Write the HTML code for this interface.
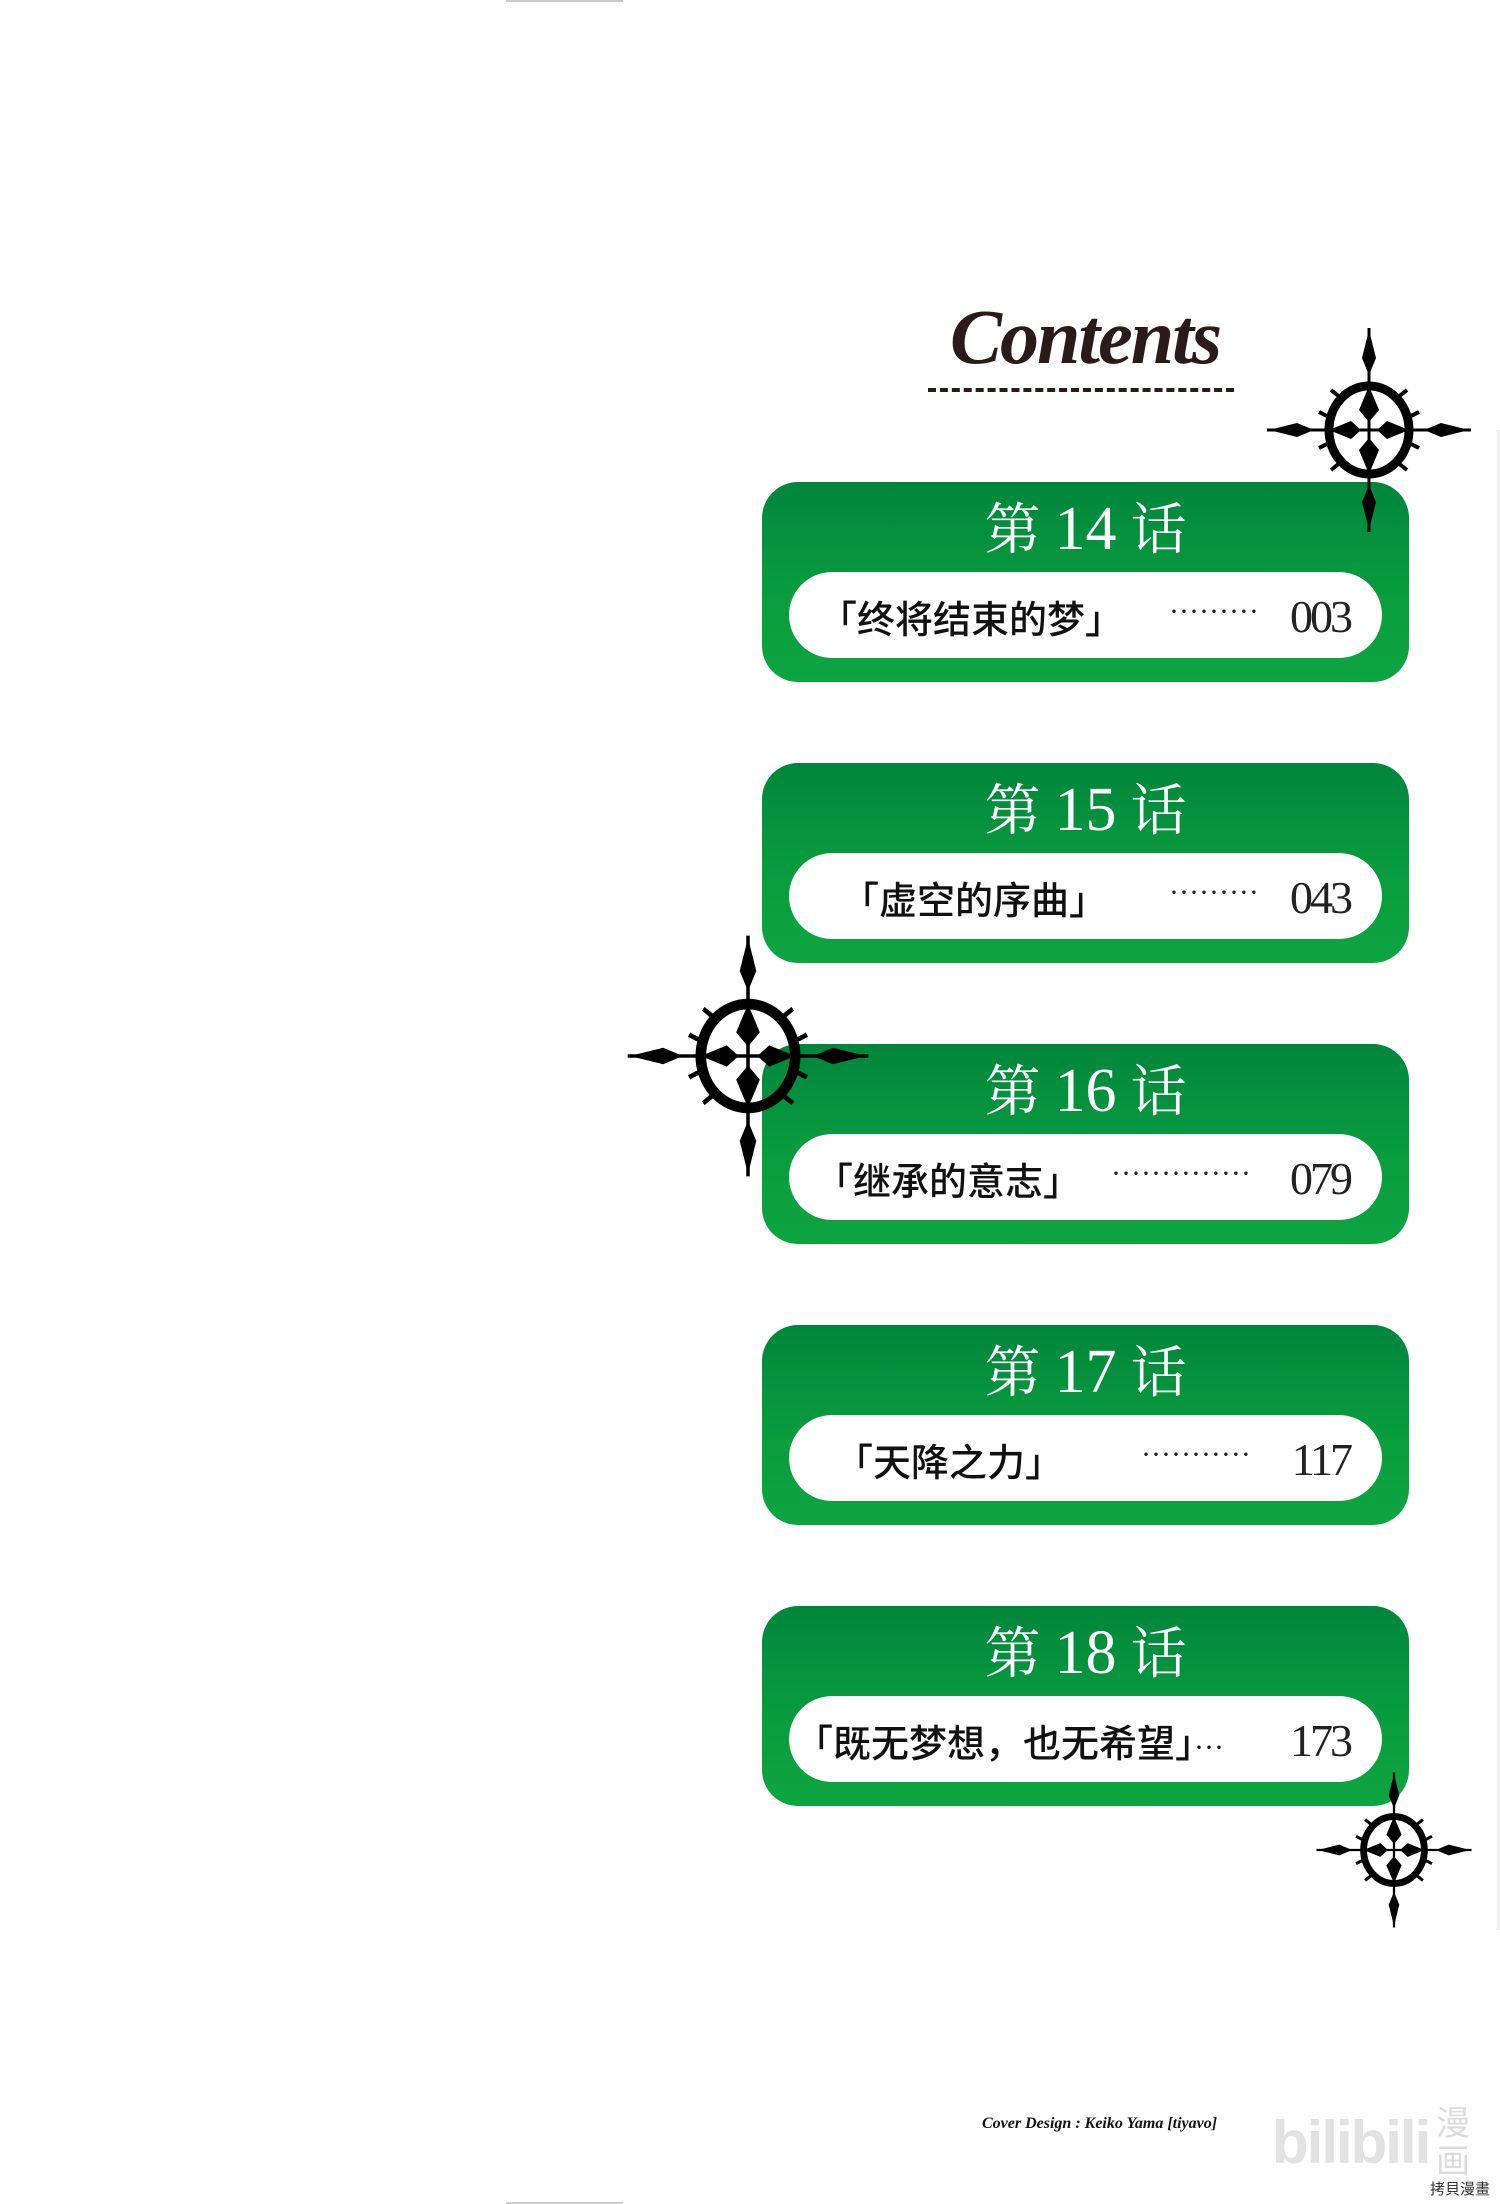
<!DOCTYPE html>
<html><head><meta charset="utf-8">
<style>
body{margin:0;background:#fff;}
#p{position:relative;width:1500px;height:2204px;overflow:hidden;background:#fff;font-family:"Liberation Serif","Noto Serif CJK SC",serif;}
.box{position:absolute;left:762px;width:647px;height:200px;border-radius:36px;background:linear-gradient(#00863c,#0a9e3e 60%,#0da540);}
.pill{position:absolute;left:27px;top:90px;width:593px;height:86px;border-radius:43px;background:#fff;}
.ti{position:absolute;left:0;width:100%;top:12px;text-align:center;color:#fff;font-size:56px;line-height:70px;}
.ti b{font-weight:normal;font-size:62px;}
.st{position:absolute;top:2px;line-height:86px;font-family:"Noto Sans CJK SC",sans-serif;font-weight:500;font-size:38px;color:#111;white-space:nowrap;}
.st span{font-family:"Liberation Serif",serif;font-weight:normal;font-size:30px;}
.dt{position:absolute;top:0;line-height:80px;font-size:30px;color:#222;}
.pn{position:absolute;right:32px;top:2px;line-height:86px;font-size:46px;color:#222;letter-spacing:-3px;}
</style></head><body><div id="p">
<div style="position:absolute;left:506px;top:0;width:117px;height:2px;background:#ccc"></div>
<div style="position:absolute;left:506px;top:2202px;width:117px;height:2px;background:#ccc"></div>
<div style="position:absolute;left:1497px;top:430px;width:3px;height:1500px;background:#eee"></div>

<div style="position:absolute;left:950px;top:292px;font-family:'Liberation Serif',serif;font-style:italic;font-weight:bold;font-size:78px;color:#2a1a1a;letter-spacing:-2px;">Contents</div>
<div style="position:absolute;left:928px;top:388px;width:306px;height:0;border-top:4px dashed #2a1a1a"></div>

<svg width="0" height="0" style="position:absolute">
<defs>
<g id="orn">
<line x1="-102" y1="0" x2="102" y2="0" stroke="#000" stroke-width="3"/>
<line x1="0" y1="-102" x2="0" y2="102" stroke="#000" stroke-width="3"/>
<path d="M0,-100 L7,-72 L0,-55 L-7,-72Z M0,100 L7,72 L0,55 L-7,72Z M-100,0 L-72,7 L-55,0 L-72,-7Z M100,0 L72,7 L55,0 L72,-7Z" fill="#000"/>
<ellipse cx="0" cy="0" rx="40" ry="44" fill="none" stroke="#000" stroke-width="9"/>
<path d="M0,-44 L10,-20 L0,-8 L-10,-20Z M0,44 L10,20 L0,8 L-10,20Z M-40,0 L-18,9 L-8,0 L-18,-9Z M40,0 L18,9 L8,0 L18,-9Z" fill="#000"/>
<path d="M-28,-32 L-38,-40 M28,-32 L38,-40 M-28,32 L-38,40 M28,32 L38,40 M-42,-14 L-50,-18 M42,-14 L50,-18 M-42,14 L-50,18 M42,14 L50,18" stroke="#000" stroke-width="4"/>
</g></defs></svg>

<div class="box" style="top:482px"><div class="ti">第 <b>14</b> 话</div><div class="pill">
<div class="st" style="left:30px">「终将结束的梦」</div><div class="dt" style="left:380px">·········</div><div class="pn">003</div></div></div>

<div class="box" style="top:763px"><div class="ti">第 <b>15</b> 话</div><div class="pill">
<div class="st" style="left:52px">「虚空的序曲」</div><div class="dt" style="left:380px">·········</div><div class="pn">043</div></div></div>

<div class="box" style="top:1044px"><div class="ti">第 <b>16</b> 话</div><div class="pill">
<div class="st" style="left:26px">「继承的意志」</div><div class="dt" style="left:322px">··············</div><div class="pn">079</div></div></div>

<div class="box" style="top:1325px"><div class="ti">第 <b>17</b> 话</div><div class="pill">
<div class="st" style="left:46px">「天降之力」</div><div class="dt" style="left:352px">···········</div><div class="pn">117</div></div></div>

<div class="box" style="top:1606px"><div class="ti">第 <b>18</b> 话</div><div class="pill">
<div class="st" style="left:6px">「既无梦想，也无希望」<span>···</span></div><div class="pn">173</div></div></div>

<svg width="1500" height="2204" style="position:absolute;left:0;top:0">
<use href="#orn" transform="translate(1369,430)"/>
<use href="#orn" transform="translate(748,1056) scale(1.18)"/>
<use href="#orn" transform="translate(1394,1850) scale(0.76)"/>
</svg>

<div style="position:absolute;left:982px;top:2115px;font-style:italic;font-weight:bold;font-size:16px;color:#111;">Cover Design : Keiko Yama [tiyavo]</div>
<div style="position:absolute;left:1272px;top:2108px;font-family:'Liberation Sans',sans-serif;font-weight:bold;font-size:60px;color:#e2e2e2;letter-spacing:-2px;">bilibili</div>
<div style="position:absolute;left:1436px;top:2102px;font-family:'Noto Sans CJK SC',sans-serif;font-size:34px;line-height:38px;color:#dcdcdc;width:40px;">漫<br>画</div>
<div style="position:absolute;left:1430px;top:2178px;font-family:'Noto Sans CJK SC',sans-serif;font-size:15px;color:#333;">拷貝漫畫</div>
</div></body></html>
